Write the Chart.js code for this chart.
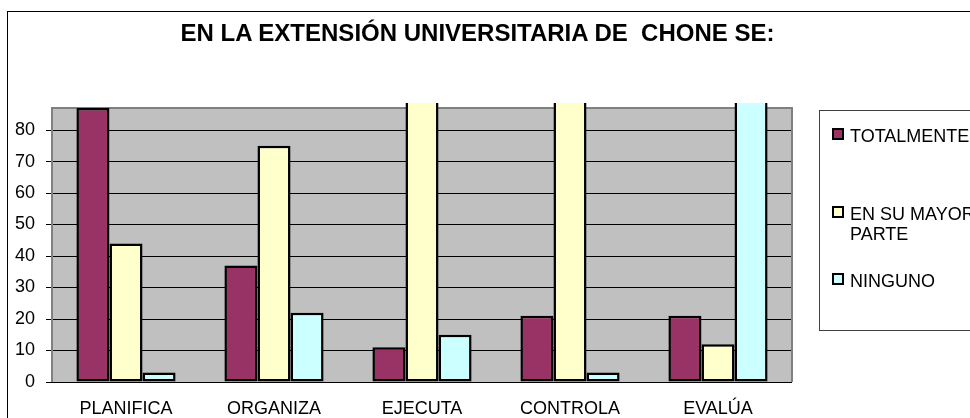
<!DOCTYPE html>
<html>
<head>
<meta charset="utf-8">
<script src="https://cdn.jsdelivr.net/npm/chart.js@4"></script>
<style>
  html, body { margin: 0; padding: 0; background: #fff; overflow: hidden; }
  body { width: 970px; height: 418px; position: relative; font-family: "Liberation Sans", Arial, sans-serif; }
  #frame { position: absolute; left: 7px; top: 11px; width: 1000px; height: 500px; border: 1px solid #000; }
  #chartBox { position: absolute; left: 0; top: 0; width: 970px; height: 418px; }
  #title { position: absolute; left: 0; width: 955px; top: 21px; text-align: center; font-weight: bold; font-size: 24px; line-height: 24px; color: #000; white-space: pre; }
  #legend { position: absolute; left: 819px; top: 110px; width: 200px; height: 219px; border: 1px solid #404040; }
  .item { position: absolute; left: 0; }
  .box { position: absolute; left: 12px; width: 8px; height: 8px; border: 2px solid #000; }
  .txt { position: absolute; left: 30px; width: 125px; font-size: 18px; line-height: 20px; color: #000; }
</style>
</head>
<body>
<div id="frame"></div>
<div id="chartBox"><canvas id="chart" width="970" height="418"></canvas></div>
<div id="title">EN LA EXTENSIÓN UNIVERSITARIA DE  CHONE SE:</div>
<div id="legend"></div>
<script>
// datos
const categories = ['PLANIFICA', 'ORGANIZA', 'EJECUTA', 'CONTROLA', 'EVALÚA'];
const seriesNames = ['TOTALMENTE', 'EN SU MAYOR PARTE', 'NINGUNO'];
const totalmente = [87, 37, 11, 21, 21];
const enSuMayorParte = [44, 75, 108, 110, 12];
const ninguno = [3, 22, 15, 3, 101];
const yTicks = [0, 10, 20, 30, 40, 50, 60, 70, 80];

const colors = ['#993366', '#FFFFCC', '#CCFFFF'];
const FONT = '"Liberation Sans", Arial, sans-serif';

// fondo gris del area de trazado + borde
const plotArea = {
    id: 'plotArea',
    beforeDraw(chart) {
        const a = chart.chartArea;
        const c = chart.ctx;
        c.save();
        c.fillStyle = '#C0C0C0';
        c.fillRect(a.left, a.top, a.right - a.left, a.bottom - a.top);
        c.restore();
    },
    beforeDatasetsDraw(chart) {
        const a = chart.chartArea;
        const c = chart.ctx;
        c.save();
        c.strokeStyle = '#808080';
        c.lineWidth = 2;
        c.beginPath();
        c.moveTo(a.left, a.bottom);
        c.lineTo(a.left, a.top);
        c.lineTo(a.right, a.top);
        c.lineTo(a.right, a.bottom);
        c.stroke();
        // linea del cero
        c.strokeStyle = '#000';
        c.lineWidth = 1;
        const y0 = Math.round(chart.scales.y.getPixelForValue(0)) + 0.5;
        c.beginPath();
        c.moveTo(a.left - 6, y0);
        c.lineTo(a.right, y0);
        c.stroke();
        c.restore();
    }
};

const datasets = [totalmente, enSuMayorParte, ninguno].map((d, i) => ({
    label: seriesNames[i],
    data: d,
    backgroundColor: colors[i],
    borderColor: '#000',
    borderWidth: 2.5,
    borderSkipped: false,
    barPercentage: 1,
    categoryPercentage: 0.67,
    clip: { left: 0, top: 5, right: 0, bottom: 0 }
}));

const ctx = document.getElementById('chart').getContext('2d');
const chart = new Chart(ctx, {
    type: 'bar',
    data: { labels: categories, datasets: datasets },
    options: {
        responsive: false,
        animation: false,
        devicePixelRatio: 1,
        layout: { padding: { left: 0, top: 108, right: 178, bottom: 0 } },
        plugins: { legend: { display: false }, title: { display: false }, tooltip: { enabled: false } },
        scales: {
            x: {
                grid: { display: false, drawTicks: false },
                border: { display: false },
                ticks: { color: '#000', font: { family: FONT, size: 18 }, padding: 16, maxRotation: 0 },
                afterFit(s) { s.height = 36; }
            },
            y: {
                min: 0,
                max: 87,
                afterBuildTicks(s) { s.ticks = yTicks.map(v => ({ value: v })); },
                grid: { color: '#000', lineWidth: 1, tickLength: 6, tickColor: '#000' },
                border: { display: false },
                ticks: { color: '#000', font: { family: FONT, size: 18 }, padding: 11 },
                afterFit(s) { s.width = 52; }
            }
        }
    },
    plugins: [plotArea]
});

// leyenda html
const legendTops = [126, 204, 271];
const legend = document.getElementById('legend');
seriesNames.forEach((name, i) => {
    const item = document.createElement('div');
    item.className = 'item';
    item.style.top = (legendTops[i] - 111) + 'px';
    item.innerHTML = '<div class="box" style="top:2px;background:' + colors[i] + '"></div>' +
        '<div class="txt">' + name + '</div>';
    legend.appendChild(item);
});
</script>
</body>
</html>
